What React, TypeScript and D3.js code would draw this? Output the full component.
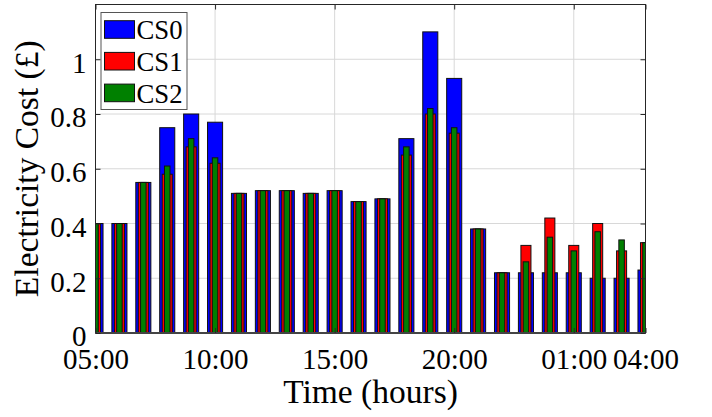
import * as d3 from 'd3';
import { useEffect, useRef } from 'react';

const hourLabels = [
  '05:00', '06:00', '07:00', '08:00', '09:00', '10:00', '11:00', '12:00',
  '13:00', '14:00', '15:00', '16:00', '17:00', '18:00', '19:00', '20:00',
  '21:00', '22:00', '23:00', '00:00', '01:00', '02:00', '03:00', '04:00',
];
const tickHours = ['05:00', '10:00', '15:00', '20:00', '01:00', '04:00'];
const yTicks = [0, 0.2, 0.4, 0.6, 0.8, 1];

const cs0 = [0.40, 0.40, 0.55, 0.75, 0.80, 0.77, 0.51, 0.52, 0.52, 0.51, 0.52, 0.48,
  0.49, 0.71, 1.10, 0.93, 0.38, 0.22, 0.22, 0.22, 0.22, 0.20, 0.20, 0.23];
const cs1 = [0.40, 0.40, 0.55, 0.58, 0.68, 0.62, 0.51, 0.52, 0.52, 0.51, 0.52, 0.48,
  0.49, 0.65, 0.80, 0.73, 0.38, 0.22, 0.32, 0.42, 0.32, 0.40, 0.30, 0.33];
const cs2 = [0.40, 0.40, 0.55, 0.61, 0.71, 0.64, 0.51, 0.52, 0.52, 0.51, 0.52, 0.48,
  0.49, 0.68, 0.82, 0.75, 0.38, 0.22, 0.26, 0.35, 0.30, 0.37, 0.34, 0.33];

const seriesNames = ['CS0', 'CS1', 'CS2'];
const seriesValues = [cs0, cs1, cs2];
const seriesColors = ['#0000ff', '#ff0000', '#008000'];
const seriesWidths = [0.63, 0.42, 0.23]; // fraction of one hour slot

export default function App() {
  const ref = useRef<SVGSVGElement>(null);
  const width = 712;
  const height = 417;

  useEffect(() => {
    const svg = d3.select(ref.current);
    svg.selectAll('*').remove();

    const margin = { top: 4.5, right: 66.5, bottom: 84, left: 95.5 };
    const innerWidth = width - margin.left - margin.right;
    const innerHeight = height - margin.top - margin.bottom;
    const font = '"Liberation Serif", "Times New Roman", serif';
    const axisColor = '#262626';

    const x = d3.scaleLinear().domain([0, hourLabels.length - 1]).range([0, innerWidth]);
    const y = d3.scaleLinear().domain([0, 1.2]).range([innerHeight, 0]);
    const slot = x(1) - x(0);

    const root = svg.append('g').attr('transform', `translate(${margin.left},${margin.top})`);

    root.append('defs').append('clipPath').attr('id', 'plot-clip')
      .append('rect').attr('width', innerWidth).attr('height', innerHeight);

    // grid
    const tickIdx = tickHours.map((h) => hourLabels.indexOf(h));
    root.append('g')
      .selectAll('line')
      .data(tickIdx)
      .enter()
      .append('line')
      .attr('x1', (d) => x(d))
      .attr('x2', (d) => x(d))
      .attr('y1', 0)
      .attr('y2', innerHeight)
      .attr('stroke', '#d8d8d8')
      .attr('stroke-width', 1);
    root.append('g')
      .selectAll('line')
      .data(yTicks)
      .enter()
      .append('line')
      .attr('x1', 0)
      .attr('x2', innerWidth)
      .attr('y1', (d) => y(d))
      .attr('y2', (d) => y(d))
      .attr('stroke', '#d8d8d8')
      .attr('stroke-width', 1);

    // bars, widest first
    const bars = root.append('g').attr('clip-path', 'url(#plot-clip)');
    seriesValues.forEach((values, s) => {
      const w = seriesWidths[s] * slot;
      bars.append('g')
        .selectAll('rect')
        .data(values)
        .enter()
        .append('rect')
        .attr('x', (_d, i) => x(i) - w / 2)
        .attr('y', (d) => y(d))
        .attr('width', w)
        .attr('height', (d) => innerHeight - y(d))
        .attr('fill', seriesColors[s])
        .attr('stroke', '#111')
        .attr('stroke-width', 1);
    });

    // box
    root.append('rect')
      .attr('width', innerWidth)
      .attr('height', innerHeight)
      .attr('fill', 'none')
      .attr('stroke', axisColor)
      .attr('stroke-width', 1);
    root.append('line')
      .attr('x1', 0).attr('x2', innerWidth)
      .attr('y1', innerHeight).attr('y2', innerHeight)
      .attr('stroke', '#444').attr('stroke-width', 2);

    // x axis
    const xAxis = root.append('g').attr('transform', `translate(0,${innerHeight})`)
      .call(d3.axisBottom(x).tickValues(tickIdx).tickSize(-5).tickPadding(15.5)
        .tickFormat((d) => hourLabels[d as number]));
    xAxis.select('.domain').remove();
    xAxis.selectAll('line').attr('stroke', axisColor);
    xAxis.selectAll('text')
      .attr('fill', '#000')
      .style('font-family', font)
      .style('font-size', '29px');

    root.append('g')
      .call(d3.axisTop(x).tickValues(tickIdx).tickSize(-5).tickFormat(() => ''))
      .call((g) => g.select('.domain').remove())
      .selectAll('line').attr('stroke', axisColor);

    // y axis
    const yAxis = root.append('g')
      .call(d3.axisLeft(y).tickValues(yTicks).tickSize(-5).tickPadding(9)
        .tickFormat((d) => d3.format('~g')(d as number)));
    yAxis.select('.domain').remove();
    yAxis.selectAll('line').attr('stroke', axisColor);
    yAxis.selectAll('text')
      .attr('fill', '#000')
      .attr('dy', '0.44em')
      .style('font-family', font)
      .style('font-size', '29px');

    root.append('g')
      .attr('transform', `translate(${innerWidth},0)`)
      .call(d3.axisRight(y).tickValues(yTicks).tickSize(-5).tickFormat(() => ''))
      .call((g) => g.select('.domain').remove())
      .selectAll('line').attr('stroke', axisColor);

    // axis titles
    svg.append('text')
      .attr('x', margin.left + innerWidth / 2)
      .attr('y', 403)
      .attr('text-anchor', 'middle')
      .style('font-family', font)
      .style('font-size', '33.5px')
      .text('Time (hours)');

    svg.append('text')
      .attr('transform', `translate(38,${margin.top + innerHeight / 2}) rotate(-90)`)
      .attr('text-anchor', 'middle')
      .style('font-family', font)
      .style('font-size', '33.5px')
      .text('Electricity Cost (£)');

    // legend
    const legend = svg.append('g').attr('transform', 'translate(101,12.5)');
    legend.append('rect')
      .attr('width', 86)
      .attr('height', 97)
      .attr('fill', '#fff')
      .attr('stroke', '#555')
      .attr('stroke-width', 1);
    seriesNames.forEach((name, i) => {
      const row = legend.append('g').attr('transform', `translate(0,${i * 31.7})`);
      row.append('rect')
        .attr('x', 3.5)
        .attr('y', 8.2)
        .attr('width', 30)
        .attr('height', 17.6)
        .attr('fill', seriesColors[i])
        .attr('stroke', '#111')
        .attr('stroke-width', 1);
      row.append('text')
        .attr('x', 35.5)
        .attr('y', 26.8)
        .style('font-family', font)
        .style('font-size', '26.7px')
        .text(name);
    });
  }, []);

  return (
    <svg
      ref={ref}
      width={width}
      height={height}
      style={{ position: 'absolute', left: 0, top: 0, background: '#fff' }}
    />
  );
}
